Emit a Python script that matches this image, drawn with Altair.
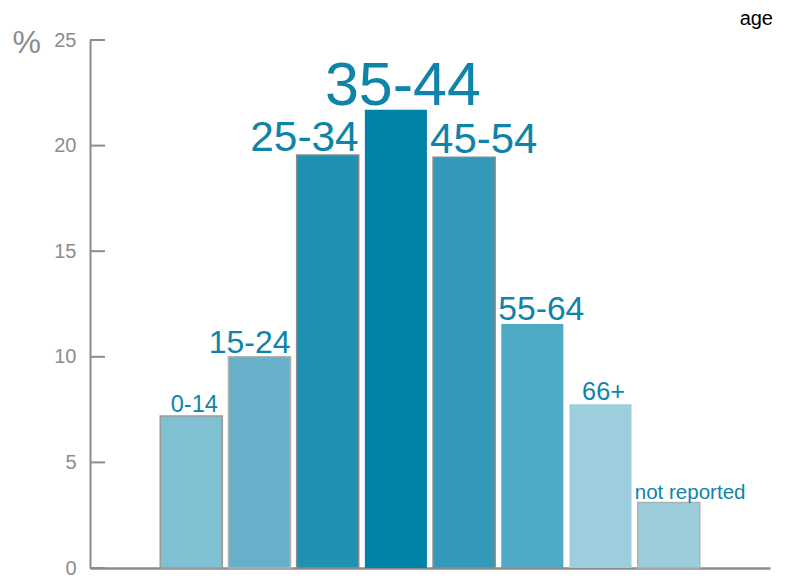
import altair as alt
import pandas as pd

categories = ["0-14", "15-24", "25-34", "35-44", "45-54", "55-64", "66+", "not reported"]
values = [7.2, 10.0, 19.55, 21.7, 19.45, 11.55, 7.75, 3.1]
y_ticks = [0, 5, 10, 15, 20, 25]

# styles
bar_colors = ["#80c0d3", "#66b1c9", "#1f92b3", "#0083a8", "#3399b8", "#4eaac4", "#9dcedd", "#9bcddb"]
bar_strokes = ["#9a9a9a", "#b0b0b0", "#8a8a8a", "transparent", "#8a8a8a", "transparent", "transparent", "#b0b0b0"]
right_labels = ["15-24", "25-34"]
center_labels = ["0-14", "66+"]
big_labels = ["35-44"]
left_labels = ["45-54", "55-64", "not reported"]

FONT = "Liberation Sans"
GRAY = "#8c8c8c"
TEAL = "#0f84a8"

df = pd.DataFrame({"age": categories, "pct": values})
ticks_df = pd.DataFrame({"t": y_ticks})

x_domain = ["_left"] + categories + ["_right"]
xscale = alt.Scale(domain=x_domain, paddingInner=0.09, paddingOuter=0.03)
yscale = alt.Scale(domain=[0, 25], nice=False)

base = alt.Chart(df)

bars = base.mark_bar(strokeWidth=1.5).encode(
    x=alt.X("age:N", scale=xscale,
            axis=alt.Axis(labels=False, ticks=False, title=None, domainColor=GRAY,
                          domainWidth=2.5)),
    y=alt.Y("pct:Q", scale=yscale,
            axis=alt.Axis(values=y_ticks, tickSize=0, grid=False, domainColor=GRAY,
                          domainWidth=2, labelColor=GRAY, labelFont=FONT,
                          labelFontSize=20, labelPadding=14, title="%",
                          titleAngle=0, titleX=-78, titleY=12, titleAlign="left",
                          titleBaseline="alphabetic", titleFontSize=32,
                          titleColor=GRAY, titleFont=FONT, titleFontWeight="normal")),
    color=alt.Color("age:N", scale=alt.Scale(domain=categories, range=bar_colors), legend=None),
    stroke=alt.Stroke("age:N", scale=alt.Scale(domain=categories, range=bar_strokes), legend=None),
)

size_scale = alt.Scale(type="linear", domain=[3, 7, 10, 19.5, 21.7], range=[20.5, 23, 32, 42, 61])


def label_layer(names, align, dx, dy=-4):
    return base.mark_text(align=align, baseline="alphabetic", dx=dx, dy=dy,
                          font=FONT, color=TEAL).encode(
        x=alt.X("age:N", scale=xscale),
        y=alt.Y("pct:Q", scale=yscale),
        text="age:N",
        size=alt.Size("pct:Q", scale=size_scale, legend=None),
    ).transform_filter(alt.FieldOneOfPredicate(field="age", oneOf=names))


lab_r = label_layer(right_labels, "right", 31)
lab_c = label_layer(center_labels, "center", 3)
lab_b = label_layer(big_labels, "center", 7, -5)
lab_l = label_layer(left_labels, "left", -34)

tick_rules = alt.Chart(ticks_df).mark_rule(color=GRAY, strokeWidth=2).encode(
    x=alt.value(0), x2=alt.value(15), y=alt.Y("t:Q", scale=yscale)
)

age_title = alt.Chart(pd.DataFrame({"label": ["age"]})).mark_text(
    align="right", baseline="alphabetic", font=FONT, fontSize=20, color="black"
).encode(x=alt.value(683), y=alt.value(-15), text="label:N")

chart = alt.layer(bars, tick_rules, lab_r, lab_c, lab_b, lab_l, age_title).properties(
    width=680, height=528,
    autosize=alt.AutoSizeParams(type="none"),
    padding={"left": 82, "top": 32, "right": 10, "bottom": 10},
).configure_view(stroke=None)

chart.save("out.html", embed_options={"renderer": "svg", "actions": False})
